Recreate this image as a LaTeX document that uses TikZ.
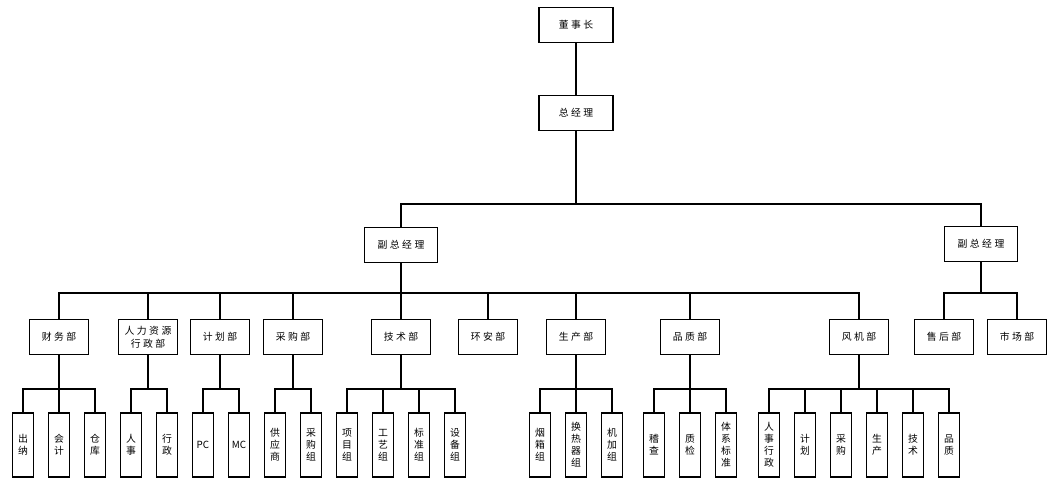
\documentclass[tikz,border=0pt]{standalone}
\usepackage{fontspec}
\setmainfont{Noto Sans CJK SC}
\newfontfamily\espace[LetterSpace=25]{Noto Sans CJK SC}
\begin{document}
\begin{tikzpicture}[x=0.025cm,y=-0.025cm]
    \tikzstyle{lien}=[line width=1pt]
\tikzset{boite/.style={draw,line width=1.2pt,minimum width=#1,minimum height=0.88cm,inner sep=1pt,align=center,font=\espace\fontsize{7}{9}\selectfont},
boite/.default={1.47cm},
feuille/.style={draw,line width=1.2pt,minimum width=0.52cm,minimum height=1.6cm,inner sep=1pt,align=center,font=\fontsize{7}{8.5}\selectfont}}
\useasboundingbox (0,0) rectangle (1048,480);

% haut
\node[boite=1.85cm] (dsz) at (576,25){董事长};
\node[boite=1.85cm] (zjl) at (576,113){总经理};
\node[boite=1.83cm] (fz1) at (401,245){副总经理};
\node[boite=1.83cm] (fz2) at (981,244){副总经理};

\coordinate (b0) at (0,204);
\coordinate (b1) at (0,293);
\coordinate (b3) at (0,389);

\draw[lien] (dsz) -- (zjl);
\foreach \f in {fz1,fz2} \draw[lien] (zjl) -- (zjl |- b0) -| (\f);

% departements
\node[boite] (cwb) at (59,337){财务部};
\node[boite] (rlb) at (148,337){人力资源\\行政部};
\node[boite] (jhb) at (220,337){计划部};
\node[boite] (cgb) at (293,337){采购部};
\node[boite] (jsb) at (401,337){技术部};
\node[boite] (hab) at (488,337){环安部};
\node[boite] (scb) at (576,337){生产部};
\node[boite] (pzb) at (690,337){品质部};
\node[boite] (fjb) at (859,337){风机部};
\node[boite] (shb) at (944,337){售后部};
\node[boite] (scyb) at (1017,337){市场部};

\foreach \f in {cwb,rlb,jhb,cgb,jsb,hab,scb,pzb,fjb} \draw[lien] (fz1) -- (fz1 |- b1) -| (\f);
\foreach \f in {shb,scyb} \draw[lien] (fz2) -- (fz2 |- b1) -| (\f);

% groupes
\node[feuille] (cn) at (23,445){出\\纳};
\node[feuille] (kj) at (59,445){会\\计};
\node[feuille] (ck) at (95,445){仓\\库};
\node[feuille] (rs) at (131,445){人\\事};
\node[feuille] (xz) at (167,445){行\\政};
\node[feuille] (pc) at (203,445){PC};
\node[feuille] (mc) at (239,445){MC};
\node[feuille] (gys) at (275,445){供\\应\\商};
\node[feuille] (cgz) at (311,445){采\\购\\组};
\node[feuille] (xmz) at (347,445){项\\目\\组};
\node[feuille] (gyz) at (383,445){工\\艺\\组};
\node[feuille] (bzz) at (419,445){标\\准\\组};
\node[feuille] (sbz) at (455,445){设\\备\\组};
\node[feuille] (yxz) at (540,445){烟\\箱\\组};
\node[feuille] (hrq) at (576,445){换\\热\\器\\组};
\node[feuille] (jjz) at (612,445){机\\加\\组};
\node[feuille] (jc) at (654,445){稽\\查};
\node[feuille] (zj) at (690,445){质\\检};
\node[feuille] (tx) at (726,445){体\\系\\标\\准};
\node[feuille] (fjrs) at (769,445){人\\事\\行\\政};
\node[feuille] (fjjh) at (805,445){计\\划};
\node[feuille] (fjcg) at (841,445){采\\购};
\node[feuille] (fjsc) at (877,445){生\\产};
\node[feuille] (fjjs) at (913,445){技\\术};
\node[feuille] (fjpz) at (949,445){品\\质};

\foreach \f in {cn,kj,ck} \draw[lien] (cwb) -- (cwb |- b3) -| (\f);
\foreach \f in {rs,xz} \draw[lien] (rlb) -- (rlb |- b3) -| (\f);
\foreach \f in {pc,mc} \draw[lien] (jhb) -- (jhb |- b3) -| (\f);
\foreach \f in {gys,cgz} \draw[lien] (cgb) -- (cgb |- b3) -| (\f);
\foreach \f in {xmz,gyz,bzz,sbz} \draw[lien] (jsb) -- (jsb |- b3) -| (\f);
\foreach \f in {yxz,hrq,jjz} \draw[lien] (scb) -- (scb |- b3) -| (\f);
\foreach \f in {jc,zj,tx} \draw[lien] (pzb) -- (pzb |- b3) -| (\f);
\foreach \f in {fjrs,fjjh,fjcg,fjsc,fjjs,fjpz} \draw[lien] (fjb) -- (fjb |- b3) -| (\f);

  \end{tikzpicture}
\end{document}
